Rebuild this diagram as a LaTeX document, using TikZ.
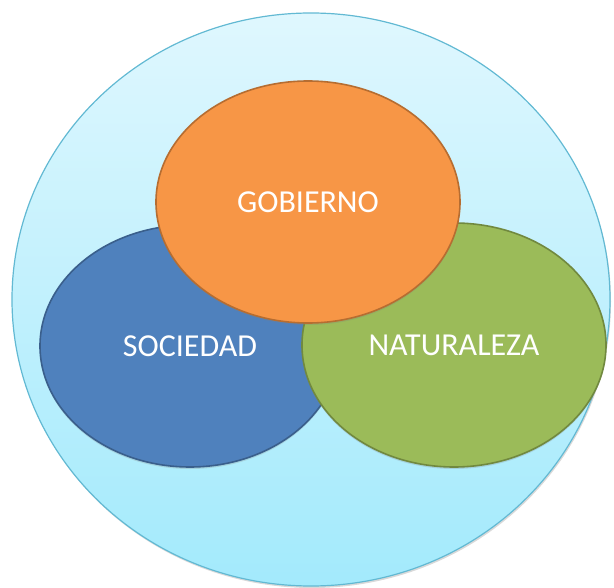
\documentclass[tikz,border=0pt]{standalone}
\usepackage{fontspec}
\setmainfont{Carlito}
\usetikzlibrary{shapes.geometric,shadows}

\definecolor{skytop}{HTML}{DFF7FE}
\definecolor{skybottom}{HTML}{A3EAFC}
\definecolor{skyline}{HTML}{62B9D3}
\definecolor{bluefill}{HTML}{4F81BD}
\definecolor{blueline}{HTML}{3A5F8C}
\definecolor{greenfill}{HTML}{9BBB59}
\definecolor{greenline}{HTML}{71893F}
\definecolor{orangefill}{HTML}{F79646}
\definecolor{orangeline}{HTML}{B66D31}

\begin{document}
\begin{tikzpicture}[
    x=1pt,
    y=-1pt,
    blob/.style={ellipse, inner sep=0pt, line width=1.6pt,
        text=white, font=\fontsize{32}{38}\selectfont},
    blobshadow/.style={drop shadow={shadow xshift=0pt, shadow yshift=-2pt, opacity=0.25}}
]
\useasboundingbox (0,0) rectangle (614,588);

% Outer circle
\node[ellipse, minimum width=598pt, minimum height=573pt, inner sep=0pt,
      top color=skytop, bottom color=skybottom, draw=skyline, line width=1.2pt,
      drop shadow={shadow xshift=1pt, shadow yshift=-2pt, opacity=0.3}]
      (world) at (311,299.5) {};

% Three sets
\node[blob, blobshadow, minimum width=300pt, minimum height=242pt,
      fill=bluefill, draw=blueline] (sociedad) at (190,346) {SOCIEDAD};
\node[blob, blobshadow, minimum width=304pt, minimum height=244pt,
      fill=greenfill, draw=greenline] (naturaleza) at (454,345) {NATURALEZA};
\node[blob, blobshadow, minimum width=304pt, minimum height=242pt,
      fill=orangefill, draw=orangeline] (gobierno) at (308,202) {GOBIERNO};

\end{tikzpicture}
\end{document}
